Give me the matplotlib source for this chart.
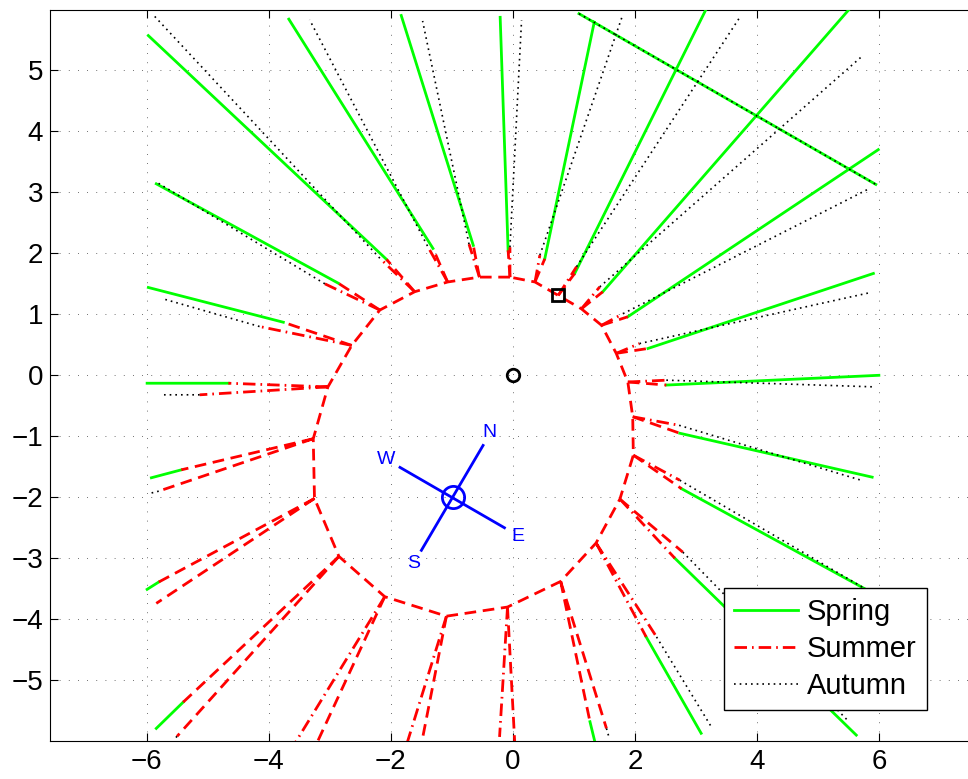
import numpy as np
import matplotlib
matplotlib.use('Agg')  # no display
import matplotlib.pyplot as plt

plt.rcParams['font.family'] = ['Liberation Sans', 'DejaVu Sans']

# hour points on the loop (going round from the top)
vx = [-0.05, -0.55, -1.07, -1.61, -2.18, -2.64, -3.03, -3.27, -3.25, -2.85, -2.10, -1.09,
      -0.09, 0.78, 1.36, 1.75, 1.97, 1.96, 1.88, 1.69, 1.45, 1.12, 0.74, 0.36]
vy = [1.61, 1.61, 1.53, 1.37, 1.07, 0.49, -0.19, -1.04, -2.02, -2.97, -3.63, -3.95,
      -3.80, -3.38, -2.75, -2.03, -1.31, -0.68, -0.11, 0.36, 0.82, 1.09, 1.31, 1.53]

# first ray from each point: bend (end of red part) and outer end (green part)
a_bx = [-0.08, -0.65, -1.31, -2.07, -2.86, -3.76, -4.66, -5.43, -5.80, -5.40, -3.58, -1.74,
        -0.22, 1.26, 2.18, 2.65, 2.76, 2.73, 2.51, 2.21, 1.88, 1.47, 1.01, 0.52]
a_by = [2.05, 2.13, 2.08, 1.90, 1.51, 0.87, -0.13, -1.55, -3.39, -5.36, -6.05, -6.05,
        -5.93, -5.68, -4.29, -3.00, -1.86, -0.95, -0.16, 0.44, 0.96, 1.37, 1.67, 1.91]
a_ex = [-0.21, -1.83, -3.67, -5.97, -5.84, -5.97, -5.99, -5.92, -5.99, -5.84, np.nan, np.nan,
        np.nan, 1.35, 3.08, 5.62, 5.85, 5.88, 5.99, 5.90, 5.98, 5.52, 3.17, 1.33]
a_ey = [5.87, 5.90, 5.84, 5.57, 3.14, 1.44, -0.13, -1.68, -3.51, -5.79, np.nan, np.nan,
        np.nan, -6.05, -5.87, -5.90, -3.55, -1.67, 0.00, 1.67, 3.70, 6.02, 6.02, 5.79]

# second ray from each point: bend and outer end (dotted part)
b_bx = [-0.05, -0.72, -1.40, -2.18, -3.08, -4.15, -5.13, -5.80, -5.84, -5.50, -3.22, -1.50,
        0.03, 1.53, 2.35, 2.78, 2.73, 2.72, 2.51, 2.07, 1.80, 1.42, 1.04, 0.44]
b_by = [2.10, 2.15, 2.12, 1.92, 1.50, 0.80, -0.32, -1.90, -3.74, -5.92, -6.05, -6.05,
        -6.05, -5.79, -4.29, -2.90, -1.72, -0.82, -0.08, 0.52, 1.01, 1.45, 1.78, 1.97]
b_ex = [0.14, -1.48, -3.33, -5.88, -5.84, -5.75, -5.75, -5.92, np.nan, -5.54, np.nan, np.nan,
        np.nan, 1.57, 3.25, 5.50, 5.80, 5.73, 5.92, 5.82, 5.83, 5.69, 3.70, 1.80]
b_ey = [5.82, 5.81, 5.83, 5.90, 3.17, 1.26, -0.32, -1.93, np.nan, -5.96, np.nan, np.nan,
        np.nan, -5.93, -5.77, -5.68, -3.52, -1.73, -0.19, 1.35, 3.06, 5.21, 5.85, 5.92]

# stray line across the upper right
cross_x = [1.08, 5.94]
cross_y = [5.93, 3.13]

# which red parts are dash-dot (summer), the rest are dashed
a_summer = [6, 10, 11, 12, 14, 15]
b_summer = [0, 1, 2, 3, 4, 5, 6, 14, 16, 17, 18, 19, 20, 21, 22, 23]

# compass
comp_x, comp_y = -0.99, -2.0
ns_x, ns_y = [-1.50, -0.49], [-2.87, -1.15]
we_x, we_y = [-1.85, -0.14], [-1.51, -2.50]
comp_lbl = ['N', 'W', 'S', 'E']
comp_lx = [-0.38, -2.08, -1.63, 0.08]
comp_ly = [-0.93, -1.38, -3.08, -2.64]


def segs(x0, y0, x1, y1):
    # join many segments into one line, split by nan
    xs, ys = [], []
    for a, b, c, d in zip(x0, y0, x1, y1):
        if np.isnan(c) or np.isnan(a):
            continue
        xs += [a, c, np.nan]
        ys += [b, d, np.nan]
    return xs, ys


n = len(vx)
idx = range(n)
a_dash = [i for i in idx if i not in a_summer]
b_dash = [i for i in idx if i not in b_summer]
pick = lambda arr, ii: [arr[i] for i in ii]

DASHED = (4.2, 2.4)
DASHDOT = (4.5, 1.8, 0.6, 1.8)

fig = plt.figure(figsize=(9.68, 7.79), dpi=100)
ax = fig.add_axes([50 / 968, 38.4 / 779, 926 / 968, 730.6 / 779])

# spring (green, outer parts)
sx, sy = segs(a_bx + cross_x[:1], a_by + cross_y[:1], a_ex + cross_x[1:], a_ey + cross_y[1:])
ax.plot(sx, sy, color=(0, 1, 0), lw=2.0, label='Spring', zorder=3)

# summer (red dash-dot, inner parts)
x0 = pick(vx, a_summer) + pick(vx, b_summer)
y0 = pick(vy, a_summer) + pick(vy, b_summer)
x1 = pick(a_bx, a_summer) + pick(b_bx, b_summer)
y1 = pick(a_by, a_summer) + pick(b_by, b_summer)
mx, my = segs(x0, y0, x1, y1)
ax.plot(mx, my, color='r', lw=2.0, dashes=DASHDOT, label='Summer', zorder=4)

# red dashed parts + the loop
x0 = pick(vx, a_dash) + pick(vx, b_dash)
y0 = pick(vy, a_dash) + pick(vy, b_dash)
x1 = pick(a_bx, a_dash) + pick(b_bx, b_dash)
y1 = pick(a_by, a_dash) + pick(b_by, b_dash)
dx, dy = segs(x0, y0, x1, y1)
ax.plot(dx, dy, color='r', lw=2.0, dashes=DASHED, zorder=4)
ax.plot(vx + vx[:1], vy + vy[:1], color='r', lw=2.0, dashes=DASHED, zorder=4)

# autumn (black dotted, outer parts)
ax_, ay_ = segs(b_bx + cross_x[:1], b_by + cross_y[:1], b_ex + cross_x[1:], b_ey + cross_y[1:])
ax.plot(ax_, ay_, color='k', lw=1.2, dashes=(1, 2.4), label='Autumn', zorder=5)

# markers
ax.plot(0, 0, 'o', ms=9, mfc='none', mec='k', mew=2, zorder=6)
ax.plot(vx[22], vy[22], 's', ms=8.5, mfc='none', mec='k', mew=2, zorder=6)

# compass
ax.plot(ns_x, ns_y, color='b', lw=2, zorder=6)
ax.plot(we_x, we_y, color='b', lw=2, zorder=6)
ax.plot(comp_x, comp_y, 'o', ms=16, mfc='none', mec='b', mew=2, zorder=6)
for t, lx, ly in zip(comp_lbl, comp_lx, comp_ly):
    ax.text(lx, ly, t, color='b', fontsize=14, ha='center', va='center', zorder=6)

ax.set_xlim(-7.58, 7.58)
ax.set_ylim(-5.99, 5.99)
ax.set_xticks(np.arange(-6, 7, 2))
ax.set_yticks(np.arange(-5, 6, 1))
ax.set_xticklabels([str(t).replace('-', '\u2212') for t in range(-6, 7, 2)])
ax.set_yticklabels([str(t).replace('-', '\u2212') for t in range(-5, 6)])
ax.tick_params(direction='in', length=6, width=0.8, top=True, right=True, labelsize=20)
ax.tick_params(axis='x', pad=6)
ax.tick_params(axis='y', pad=5)
ax.grid(True, color='0.25', lw=0.6, dashes=(1, 10))
ax.set_axisbelow(True)
for s in ax.spines.values():
    s.set_linewidth(0.8)

leg = ax.legend(loc='upper left', bbox_to_anchor=(724 / 968, 1 - 588 / 779),
                bbox_transform=fig.transFigure, borderaxespad=0, fontsize=21,
                fancybox=False, framealpha=1, edgecolor='k', handlelength=2.2,
                handletextpad=0.3, labelspacing=0.3, borderpad=0.35)
leg.get_frame().set_linewidth(1.0)
leg.set_zorder(10)

fig.savefig('out.png', dpi=100)
